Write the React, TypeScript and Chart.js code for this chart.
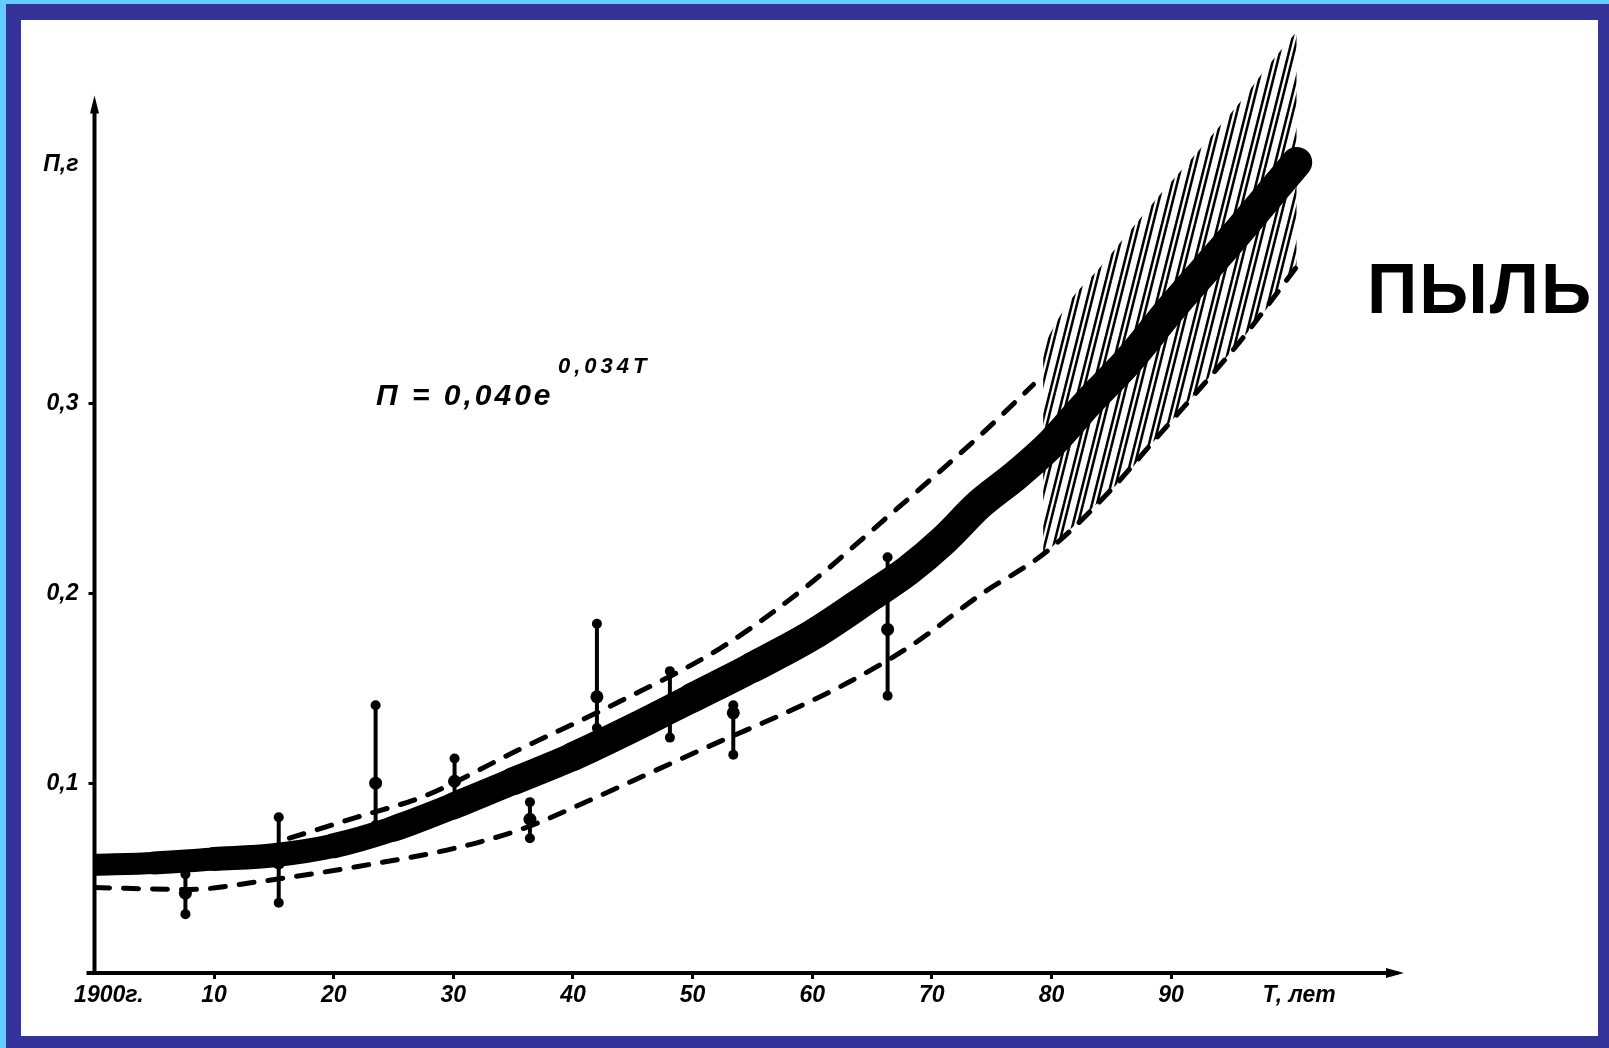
import React, { useEffect, useRef } from 'react';
import { Chart, registerables } from 'chart.js';

Chart.register(...registerables);

// ---- data (T in years since 1900, P in g) ----
const mainT = [0, 5, 10, 15, 20, 25, 30, 35, 40, 45, 50, 55, 60, 65, 68, 71, 74, 77, 80, 83, 86.5, 90, 95, 100.5];
const mainP = [0.057, 0.058, 0.060, 0.062, 0.067, 0.076, 0.088, 0.101, 0.114, 0.129, 0.145, 0.161, 0.178, 0.199, 0.212, 0.228, 0.247, 0.262, 0.279, 0.300, 0.323, 0.350, 0.386, 0.427];

const upperT = [16.3, 21.9, 27.5, 35.6, 43.9, 52.3, 59.2, 65.7, 74, 78.5];
const upperP = [0.071, 0.082, 0.093, 0.118, 0.143, 0.171, 0.202, 0.237, 0.283, 0.31];

const lowerT = [0, 8, 13.6, 21.9, 30.3, 35.8, 41.4, 47, 52.3, 57.4, 63, 68.4, 74, 79.6, 84.9, 88.8, 91.6, 95.8, 100.5];
const lowerP = [0.045, 0.044, 0.048, 0.056, 0.066, 0.076, 0.091, 0.107, 0.122, 0.136, 0.153, 0.173, 0.199, 0.222, 0.254, 0.282, 0.302, 0.333, 0.372];

const hatchT = [79.3, 81.3, 84.1, 86.3, 88.8, 91.3, 93.5, 95.8, 98, 100.5];
const hatchTop = [0.330, 0.352, 0.372, 0.389, 0.408, 0.426, 0.442, 0.459, 0.477, 0.496];
const hatchBottom = [0.220, 0.232, 0.249, 0.263, 0.282, 0.300, 0.316, 0.333, 0.350, 0.372];

const errT = [7.6, 15.4, 23.5, 30.1, 36.4, 42, 48.1, 53.4, 66.3];
const errLow = [0.031, 0.037, 0.078, 0.088, 0.071, 0.129, 0.124, 0.115, 0.146];
const errHigh = [0.052, 0.082, 0.141, 0.113, 0.090, 0.184, 0.159, 0.141, 0.219];
const errMid = [0.042, 0.058, 0.100, 0.101, 0.081, 0.1455, 0.138, 0.137, 0.181];

const xTickValues = [1.2, 10, 20, 30, 40, 50, 60, 70, 80, 90, 100.7];
const xTickLabels = ['1900г.', '10', '20', '30', '40', '50', '60', '70', '80', '90', 'Т, лет'];
const yTickValues = [0.1, 0.2, 0.3, 0.4257];
const yTickLabels = ['0,1', '0,2', '0,3', 'П,г'];

const xMax = 108.8;
const yMax = 0.5;
const yAxisTop = 0.457;

const formulaMain = 'П = 0,040e';
const formulaExp = '0,034T';
const titleText = 'ПЫЛЬ';

const tickFont = { family: '"Liberation Sans", Arial, sans-serif', size: 23, weight: 'bold' as const, style: 'italic' as const };

function makeHatch(): CanvasPattern | string {
  const P = 14;
  const H = 56;
  const c = document.createElement('canvas');
  c.width = P;
  c.height = H;
  const g = c.getContext('2d');
  if (!g) return '#000';
  g.strokeStyle = '#000';
  g.lineWidth = 2.6;
  for (const o of [0, 5]) {
    for (let k = -1; k <= 1; k++) {
      g.beginPath();
      g.moveTo(o + k * P, H);
      g.lineTo(o + k * P + P, 0);
      g.stroke();
    }
  }
  return g.createPattern(c, 'repeat') || '#000';
}

const axisPlugin = {
  id: 'axisArrows',
  afterDatasetsDraw(chart: any) {
    const { ctx, chartArea, scales } = chart;
    const x0 = chartArea.left;
    const yb = chartArea.bottom;
    const yTop = scales.y.getPixelForValue(yAxisTop);
    ctx.save();
    ctx.strokeStyle = '#000';
    ctx.fillStyle = '#000';
    ctx.lineWidth = 4;
    ctx.beginPath();
    ctx.moveTo(x0, yb + 2);
    ctx.lineTo(x0, yTop);
    ctx.stroke();
    ctx.beginPath();
    ctx.moveTo(x0, yTop - 10);
    ctx.lineTo(x0 - 4.5, yTop + 8);
    ctx.lineTo(x0 + 4.5, yTop + 8);
    ctx.closePath();
    ctx.fill();
    ctx.beginPath();
    ctx.moveTo(x0 - 8, yb);
    ctx.lineTo(x0, yb);
    ctx.stroke();
    const xr = chartArea.right;
    ctx.beginPath();
    ctx.moveTo(xr + 8, yb);
    ctx.lineTo(xr - 10, yb - 5);
    ctx.lineTo(xr - 10, yb + 5);
    ctx.closePath();
    ctx.fill();
    ctx.restore();
  },
};

export default function App() {
  const ref = useRef<HTMLCanvasElement>(null);

  useEffect(() => {
    document.body.style.margin = '0';
    if (!ref.current) return;
    const errData: any[] = [];
    errT.forEach((t, i) => {
      errData.push({ x: t, y: errLow[i] });
      errData.push({ x: t, y: errHigh[i] });
      errData.push({ x: t, y: null });
    });
    const hatch = makeHatch();
    const chart = new Chart(ref.current, {
      type: 'line',
      data: {
        datasets: [
          {
            label: 'main',
            data: mainT.map((t, i) => ({ x: t, y: mainP[i] })),
            borderColor: '#000',
            borderWidth: 28,
            segment: {
              borderWidth: (ctx: any) => {
                const t = mainT[ctx.p0DataIndex] ?? 0;
                return Math.round(22 + 9 * Math.min(1, t / 55));
              },
            },
            pointRadius: 0,
            borderCapStyle: 'round',
            borderJoinStyle: 'round',
            cubicInterpolationMode: 'monotone',
            fill: false,
            order: 1,
          },
          {
            label: 'errors',
            data: errData,
            borderColor: '#000',
            borderWidth: 4,
            pointRadius: 5,
            pointBackgroundColor: '#000',
            pointBorderWidth: 0,
            spanGaps: false,
            fill: false,
            order: 2,
          },
          {
            label: 'points',
            data: errT.map((t, i) => ({ x: t, y: errMid[i] })),
            showLine: false,
            pointRadius: 6.5,
            pointBackgroundColor: '#000',
            pointBorderWidth: 0,
            fill: false,
            order: 2,
          },
          {
            label: 'upper',
            data: upperT.map((t, i) => ({ x: t, y: upperP[i] })),
            borderColor: '#000',
            borderWidth: 5,
            borderDash: [15, 14],
            borderCapStyle: 'round',
            pointRadius: 0,
            cubicInterpolationMode: 'monotone',
            fill: false,
            order: 3,
          },
          {
            label: 'lower',
            data: lowerT.map((t, i) => ({ x: t, y: lowerP[i] })),
            borderColor: '#000',
            borderWidth: 5,
            borderDash: [15, 14],
            borderCapStyle: 'round',
            pointRadius: 0,
            cubicInterpolationMode: 'monotone',
            fill: false,
            order: 3,
          },
          {
            label: 'hatchBottom',
            data: hatchT.map((t, i) => ({ x: t, y: hatchBottom[i] })),
            borderColor: 'rgba(0,0,0,0)',
            borderWidth: 1,
            pointRadius: 0,
            cubicInterpolationMode: 'monotone',
            fill: false,
            order: 5,
          },
          {
            label: 'hatchTop',
            data: hatchT.map((t, i) => ({ x: t, y: hatchTop[i] })),
            borderColor: 'rgba(0,0,0,0)',
            borderWidth: 1,
            pointRadius: 0,
            cubicInterpolationMode: 'monotone',
            fill: '-1',
            backgroundColor: hatch as any,
            order: 5,
          },
        ],
      },
      options: {
        responsive: false,
        animation: false,
        devicePixelRatio: 1,
        layout: { padding: { left: 0, top: 18, right: 213, bottom: 0 } },
        plugins: {
          legend: { display: false },
          tooltip: { enabled: false },
          title: { display: false },
        },
        scales: {
          x: {
            type: 'linear',
            min: 0,
            max: xMax,
            afterFit: (s: any) => {
              s.height = 75;
            },
            afterBuildTicks: (s: any) => {
              s.ticks = xTickValues.map((v) => ({ value: v }));
            },
            ticks: {
              callback: (_v: any, i: number) => xTickLabels[i],
              font: tickFont,
              color: '#000',
              maxRotation: 0,
              autoSkip: false,
              padding: 3,
            },
            grid: {
              display: true,
              drawOnChartArea: false,
              drawTicks: true,
              tickLength: 6,
              lineWidth: 3,
              color: (ctx: any) => (ctx.index === 0 || ctx.index === xTickValues.length - 1 ? 'rgba(0,0,0,0)' : '#000'),
            },
            border: { display: true, color: '#000', width: 4 },
          },
          y: {
            type: 'linear',
            min: 0,
            max: yMax,
            afterFit: (s: any) => {
              s.width = 94.5;
            },
            afterBuildTicks: (s: any) => {
              s.ticks = yTickValues.map((v) => ({ value: v }));
            },
            ticks: {
              callback: (_v: any, i: number) => yTickLabels[i],
              font: tickFont,
              color: '#000',
              autoSkip: false,
              padding: 10,
            },
            grid: {
              display: true,
              drawOnChartArea: false,
              drawTicks: true,
              tickLength: 6,
              lineWidth: 3,
              color: (ctx: any) => (ctx.index === yTickValues.length - 1 ? 'rgba(0,0,0,0)' : '#000'),
            },
            border: { display: false },
          },
        },
      },
      plugins: [axisPlugin],
    } as any);
    return () => chart.destroy();
  }, []);

  return (
    <div style={{ position: 'relative', width: 1609, height: 1048, background: '#66ccff', overflow: 'hidden' }}>
      <div style={{ position: 'absolute', left: 6, top: 4, right: 0, bottom: 0, background: '#333399' }} />
      <div style={{ position: 'absolute', left: 21, top: 20, width: 1577, height: 1016, background: '#ffffff' }} />
      <canvas ref={ref} width={1609} height={1048} style={{ position: 'absolute', left: 0, top: 0, width: 1609, height: 1048 }} />
      <div
        style={{
          position: 'absolute',
          left: 376,
          top: 380,
          font: 'italic bold 30px "Liberation Sans", Arial, sans-serif',
          lineHeight: 1,
          letterSpacing: 3,
          color: '#000',
          whiteSpace: 'nowrap',
        }}
      >
        {formulaMain}
      </div>
      <div
        style={{
          position: 'absolute',
          left: 558,
          top: 355,
          font: 'italic bold 22px "Liberation Sans", Arial, sans-serif',
          lineHeight: 1,
          letterSpacing: 4,
          color: '#000',
          whiteSpace: 'nowrap',
        }}
      >
        {formulaExp}
      </div>
      <div
        style={{
          position: 'absolute',
          left: 1367,
          top: 254,
          font: 'bold 70px "Liberation Sans", Arial, sans-serif',
          lineHeight: 1,
          letterSpacing: 2,
          color: '#000',
          whiteSpace: 'nowrap',
        }}
      >
        {titleText}
      </div>
    </div>
  );
}
